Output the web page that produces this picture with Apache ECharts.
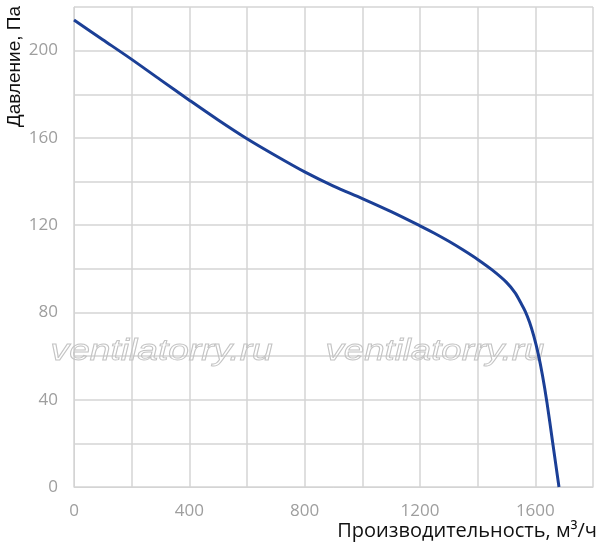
<!DOCTYPE html>
<html>
<head>
<meta charset="utf-8">
<script src="https://cdn.jsdelivr.net/npm/echarts@6/dist/echarts.min.js"></script>
<style>html,body{margin:0;padding:0;background:#fff}#c{width:597px;height:550px}</style>
</head>
<body>
<div id="c"></div>
<script>
const flow = [0, 100, 200, 300, 400, 500, 600, 700, 800, 900, 1000, 1100, 1200, 1250, 1300, 1350, 1400, 1450, 1500, 1530, 1550, 1565, 1580, 1595, 1610, 1625, 1640, 1660, 1682];
const pressure = [214, 205, 196, 186.6, 177.3, 168.2, 159.6, 151.8, 144.4, 137.9, 132.2, 126.2, 119.7, 116.3, 112.6, 108.6, 104.3, 99.5, 93.8, 89, 84.3, 80.5, 75.5, 69, 61, 51, 39, 20.5, 0];
const xTicks = [0, 400, 800, 1200, 1600];
const yTicks = [0, 40, 80, 120, 160, 200];
const xName = 'Производительность, м³/ч';
const yName = 'Давление, Па';
const watermark = 'ventilatorry.ru';

const chart = echarts.init(document.getElementById('c'));
const gridCol = '#d4d4d4';
const labCol = '#9e9e9e';
const wmStyle = {text: watermark, font: 'italic 29px "Liberation Sans"', fill: 'rgba(255,255,255,0)', stroke: '#c4c4c4', lineWidth: 0.9};
chart.setOption({
  animation: false,
  grid: {left: 74, right: 4, top: 7, bottom: 63},
  xAxis: {
    type: 'value', min: 0, max: 1800, interval: 200,
    axisLine: {show: true, lineStyle: {color: gridCol}},
    axisTick: {show: false},
    splitLine: {show: true, lineStyle: {color: gridCol, width: 1.5}},
    axisLabel: {
      color: labCol, fontSize: 17, fontFamily: 'Open Sans', margin: 16,
      formatter: v => xTicks.includes(v) ? String(v) : ''
    }
  },
  yAxis: {
    type: 'value', min: 0, max: 220, interval: 20,
    axisLine: {show: true, lineStyle: {color: gridCol}},
    axisTick: {show: false},
    splitLine: {show: true, lineStyle: {color: gridCol, width: 1.5}},
    axisLabel: {
      color: labCol, fontSize: 17, fontFamily: 'Open Sans', margin: 16,
      formatter: v => yTicks.includes(v) ? String(v) : ''
    }
  },
  graphic: [
    {type: 'text', left: 50, top: 337, z: 1, silent: true, scaleX: 1.28, style: wmStyle},
    {type: 'text', left: 325, top: 337, z: 1, silent: true, scaleX: 1.26, style: wmStyle},
    {type: 'text', right: 0, top: 521, style: {text: xName, font: '20px "Open Sans"', fill: '#111'}},
    {type: 'text', left: 5, top: 6, rotation: Math.PI / 2, style: {text: yName, font: '19px "Liberation Sans"', fill: '#111'}}
  ],
  series: [{
    type: 'line',
    data: flow.map((f, i) => [f, pressure[i]]),
    smooth: 0.3,
    showSymbol: false,
    lineStyle: {color: '#1b3f96', width: 3},
    z: 3
  }]
});
</script>
</body>
</html>
